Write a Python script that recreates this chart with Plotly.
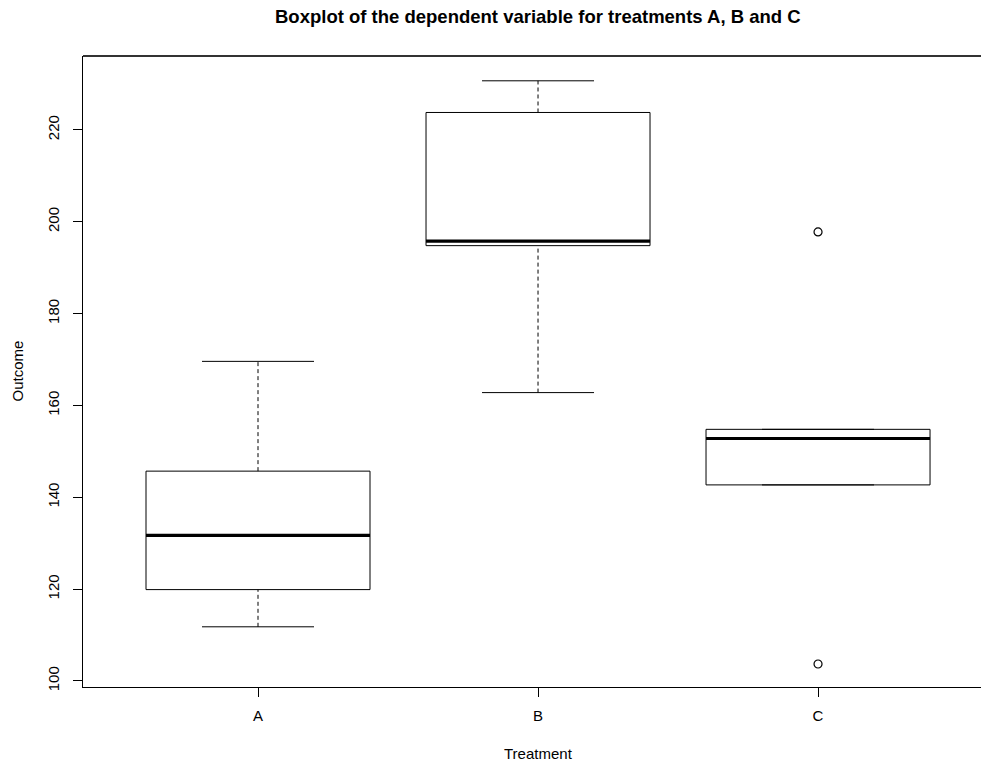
import plotly.graph_objects as go

# ---- data ----
categories = ["A", "B", "C"]
lower_whisker = [111.8, 162.8, 142.7]
q1 = [119.9, 194.8, 142.7]
median = [131.7, 195.8, 152.8]
q3 = [145.7, 223.8, 154.8]
upper_whisker = [169.6, 230.7, 154.8]
outlier_group = ["C", "C"]
outlier_value = [197.8, 103.7]
y_ticks = [100, 120, 140, 160, 180, 200, 220]

FONT = "Liberation Sans, Arial, Helvetica, sans-serif"
BOX_HALF = 0.4
CAP_HALF = 0.2

pos = {c: i + 1 for i, c in enumerate(categories)}

box_x, box_y = [], []
med_x, med_y = [], []
wh_x, wh_y = [], []
cap_x, cap_y = [], []
for c, lo, a, m, b, hi in zip(categories, lower_whisker, q1, median, q3, upper_whisker):
    p = pos[c]
    box_x += [p - BOX_HALF, p + BOX_HALF, p + BOX_HALF, p - BOX_HALF, p - BOX_HALF, None]
    box_y += [a, a, b, b, a, None]
    med_x += [p - BOX_HALF, p + BOX_HALF, None]
    med_y += [m, m, None]
    if hi > b:
        wh_x += [p, p, None]
        wh_y += [b, hi, None]
    if lo < a:
        wh_x += [p, p, None]
        wh_y += [lo, a, None]
    cap_x += [p - CAP_HALF, p + CAP_HALF, None, p - CAP_HALF, p + CAP_HALF, None]
    cap_y += [hi, hi, None, lo, lo, None]

fig = go.Figure()
fig.add_trace(go.Scatter(x=wh_x, y=wh_y, mode="lines",
                         line=dict(color="black", width=1, dash="4px,3px"), hoverinfo="skip"))
fig.add_trace(go.Scatter(x=cap_x, y=cap_y, mode="lines",
                         line=dict(color="black", width=1), hoverinfo="skip"))
fig.add_trace(go.Scatter(x=box_x, y=box_y, mode="lines",
                         line=dict(color="black", width=1), hoverinfo="skip"))
fig.add_trace(go.Scatter(x=med_x, y=med_y, mode="lines",
                         line=dict(color="black", width=3.2), hoverinfo="skip"))
fig.add_trace(go.Scatter(x=[pos[g] for g in outlier_group], y=outlier_value, mode="markers",
                         marker=dict(symbol="circle-open", size=8, color="black",
                                     line=dict(color="black", width=1.2)),
                         hoverinfo="skip"))

L, T, B = 83, 56, 76
W, H = 981, 763

fig.update_layout(
    width=W, height=H,
    margin=dict(l=L, r=0, t=T, b=B),
    paper_bgcolor="white", plot_bgcolor="white",
    showlegend=False,
    font=dict(family=FONT, size=15, color="black"),
    xaxis=dict(range=[0.375, 3.582], tickmode="array", tickvals=[pos[c] for c in categories],
               ticktext=categories, showgrid=False, zeroline=False,
               showline=True, linecolor="black", linewidth=1,
               ticks="outside", ticklen=9, tickcolor="black", tickwidth=1,
               ticklabelstandoff=6, tickfont=dict(size=15)),
    yaxis=dict(range=[98.69, 236.1], tickmode="array", tickvals=y_ticks,
               showgrid=False, zeroline=False,
               showline=True, linecolor="black", linewidth=1,
               ticks="outside", ticklen=9, tickcolor="black", tickwidth=1,
               tickangle=-90, ticklabelstandoff=8, tickfont=dict(size=15)),
    shapes=[dict(type="line", xref="paper", yref="paper", x0=0, x1=1, y0=1, y1=1,
                 line=dict(color="#333333", width=2))],
    annotations=[
        dict(text="<b>Boxplot of the dependent variable for treatments A, B and C</b>",
             xref="x", x=2, yref="paper", y=1 + (T - 17) / (H - T - B), yanchor="middle",
             showarrow=False, font=dict(size=18.5)),
        dict(text="Treatment", xref="x", x=2, yref="paper",
             y=-(753 - (H - B)) / (H - T - B), yanchor="middle",
             showarrow=False, font=dict(size=15)),
        dict(text="Outcome", xref="paper", x=-(L - 17) / (W - L), xanchor="center",
             yref="paper", y=0.5, yanchor="middle", textangle=-90,
             showarrow=False, font=dict(size=15)),
    ],
)

fig.write_html("out.html")
